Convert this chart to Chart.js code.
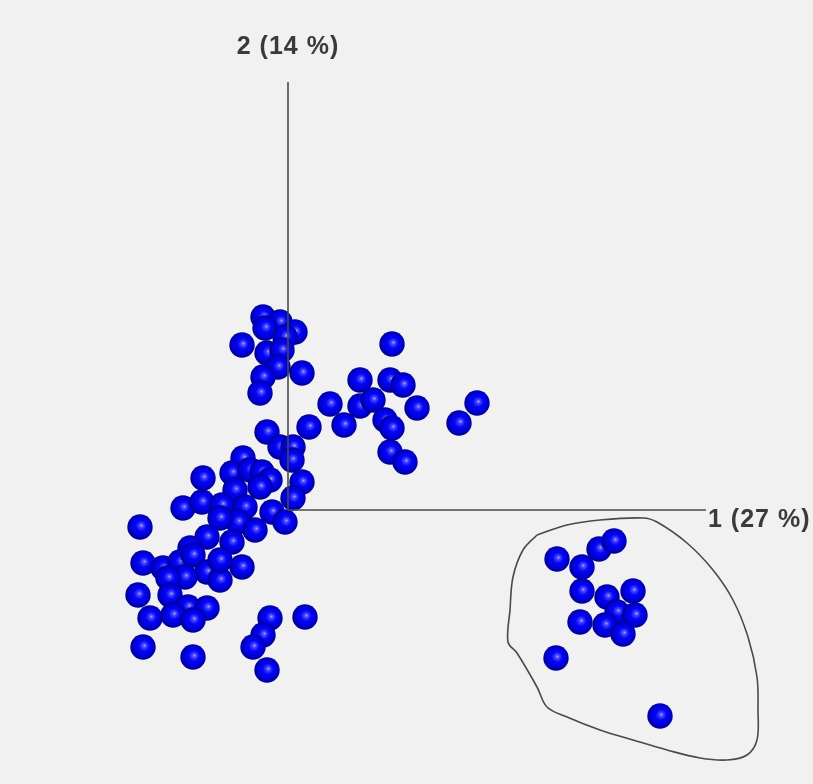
<!DOCTYPE html>
<html>

<head>
    <meta charset='UTF-8'>
    <title>PCA scores</title>
    <style>
        body {
            margin: 0;
            background: #f1f1f1;
        }

        #chart-container {
            width: 813px;
            height: 784px;
        }
    </style>
</head>

<body>
    <script src="https://cdn.jsdelivr.net/npm/chart.js@4.4.0/dist/chart.umd.min.js"></script>
    <div id="chart-container">
        <canvas id="chart" width="813" height="784"></canvas>
    </div>

    <script>
        // component scores (axis 1 = 27 %, axis 2 = 14 %)
        let pc1 = [
            -0.25, -0.08, 0.07, -0.23, -0.03, -0.46, -0.21, -0.06, -0.10, -0.25, -0.28, 0.14,
            1.04, 0.72, 1.02, 1.15, 0.42, 0.72, 0.85, 1.29, 1.89, 1.71, 0.21, 0.56, 0.97, 1.04, 1.02, 1.17,
            -0.21, -0.08, 0.05, 0.04, -0.45, -0.85, -0.56, -0.38, -0.26, -0.18, -0.28, 0.14, -0.53, 0.05,
            -1.05, -0.86, -0.66, -0.43, -0.16, -0.03, -0.50, -0.68, -0.33, -0.81, -0.56, -1.48, -0.98,
            -1.45, -1.25, -1.08, -0.95, -0.81, -1.03, -1.20, -0.68, -0.46, -0.68, -1.50, -1.18, -1.00,
            -0.81, -1.38, -1.15, -0.95, -1.45, -0.95, -0.18, -0.25, -0.35, -0.21, 0.17,
            2.69, 2.94, 3.11, 3.26, 2.94, 3.19, 3.45, 3.29, 3.47, 2.92, 3.17, 3.35, 2.68, 3.72
        ];
        let pc2 = [
            1.93, 1.88, 1.78, 1.82, 1.73, 1.65, 1.57, 1.60, 1.43, 1.33, 1.17, 1.37,
            1.66, 1.30, 1.30, 1.25, 1.06, 1.04, 1.10, 1.02, 1.07, 0.87, 0.83, 0.85, 0.90, 0.82, 0.58, 0.48,
            0.78, 0.63, 0.63, 0.50, 0.52, 0.32, 0.37, 0.40, 0.38, 0.30, 0.23, 0.28, 0.20, 0.12,
            0.02, 0.08, 0.05, 0.03, -0.02, -0.12, -0.12, -0.08, -0.20, -0.27, -0.32, -0.17, -0.38,
            -0.53, -0.58, -0.52, -0.45, -0.62, -0.67, -0.68, -0.70, -0.57, -0.50, -0.85, -0.85, -0.97,
            -0.98, -1.08, -1.05, -1.10, -1.37, -1.47, -1.08, -1.25, -1.37, -1.60, -1.07,
            -0.49, -0.57, -0.39, -0.31, -0.81, -0.87, -0.81, -1.02, -1.05, -1.12, -1.15, -1.24, -1.48, -2.06
        ];

        // outline drawn round the separate group
        let hullX = [2.49, 2.79, 3.12, 3.55, 3.69, 3.99, 4.25, 4.45, 4.60, 4.69, 4.70, 4.69, 4.59,
            4.39, 4.12, 3.79, 3.45, 3.12, 2.79, 2.59, 2.49, 2.29, 2.20, 2.22, 2.25, 2.35, 2.49];
        let hullY = [-0.25, -0.15, -0.10, -0.08, -0.12, -0.33, -0.60, -0.90, -1.27, -1.67, -2.00, -2.30, -2.45,
            -2.50, -2.48, -2.40, -2.30, -2.20, -2.07, -1.97, -1.77, -1.43, -1.32, -1.00, -0.67, -0.40, -0.25];

        let axisLabels = ["1 (27 %)", "2 (14 %)"];
        let axisEnds = [4.20, 4.28];

        function toPoints(xs, ys) {
            return xs.map(function(x, i) {
                return { x: x, y: ys[i] };
            });
        }

        // shaded ball used as point style
        function makeBall(r) {
            let c = document.createElement("canvas");
            c.width = r * 2;
            c.height = r * 2;
            let g = c.getContext("2d");
            let grad = g.createRadialGradient(r * 1.12, r * 0.88, 0, r * 1.02, r * 0.98, r);
            grad.addColorStop(0, "#a8a8ff");
            grad.addColorStop(0.14, "#4a4aff");
            grad.addColorStop(0.4, "#0505fa");
            grad.addColorStop(0.78, "#0000d0");
            grad.addColorStop(1, "#000088");
            g.fillStyle = grad;
            g.beginPath();
            g.arc(r, r, r - 0.3, 0, Math.PI * 2);
            g.fill();
            return c;
        }

        let background = {
            id: "background",
            beforeDraw: function(chart) {
                let ctx = chart.ctx;
                ctx.save();
                ctx.fillStyle = "#f1f1f1";
                ctx.fillRect(0, 0, chart.width, chart.height);
                ctx.restore();
            }
        };

        let axisText = {
            id: "axisText",
            afterDraw: function(chart) {
                let ctx = chart.ctx;
                let xs = chart.scales.x;
                let ys = chart.scales.y;
                ctx.save();
                ctx.fillStyle = "#3a3a3a";
                ctx.font = "bold 25px 'Liberation Sans', Arial, sans-serif";
                ctx.letterSpacing = "1px";
                ctx.textBaseline = "alphabetic";
                ctx.textAlign = "left";
                ctx.fillText(axisLabels[0], xs.getPixelForValue(axisEnds[0]), ys.getPixelForValue(0) + 17);
                ctx.textAlign = "center";
                ctx.fillText(axisLabels[1], xs.getPixelForValue(0), ys.getPixelForValue(axisEnds[1]) - 28);
                ctx.restore();
            }
        };

        let context = document.getElementById("chart").getContext("2d");
        let chart = new Chart(context, {
            type: "scatter",
            data: {
                datasets: [{
                    label: "axis 1",
                    data: [{ x: 0, y: 0 }, { x: axisEnds[0] - 0.02, y: 0 }],
                    showLine: true,
                    borderColor: "#4a4a4a",
                    borderWidth: 1.6,
                    pointRadius: 0
                }, {
                    label: "axis 2",
                    data: [{ x: 0, y: 0 }, { x: 0, y: axisEnds[1] }],
                    showLine: true,
                    borderColor: "#4a4a4a",
                    borderWidth: 1.6,
                    pointRadius: 0
                }, {
                    label: "outline",
                    data: toPoints(hullX, hullY),
                    showLine: true,
                    borderColor: "#4a4a4a",
                    borderWidth: 1.6,
                    tension: 0.35,
                    pointRadius: 0
                }, {
                    label: "scores",
                    data: toPoints(pc1, pc2),
                    pointStyle: makeBall(13),
                    pointRadius: 13
                }]
            },
            options: {
                responsive: false,
                animation: false,
                layout: { padding: 0, autoPadding: false },
                plugins: {
                    legend: { display: false },
                    tooltip: { enabled: false }
                },
                scales: {
                    x: { type: "linear", min: -2.88, max: 5.25, display: false },
                    y: { type: "linear", min: -2.74, max: 5.10, display: false }
                }
            },
            plugins: [background, axisText]
        });
    </script>

</body>

</html>
